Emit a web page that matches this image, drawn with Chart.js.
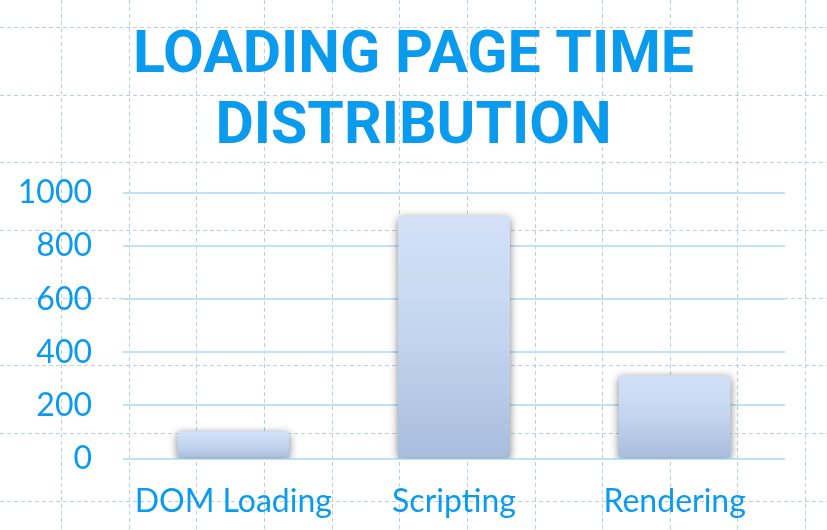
<!DOCTYPE html>
<html>
<head>
<meta charset="utf-8">
<script src="https://cdn.jsdelivr.net/npm/chart.js@4"></script>
<style>html,body{margin:0;padding:0;background:#fff}#wrap{width:827px;height:530px}</style>
</head>
<body>
<div id="wrap"><canvas id="chart" width="827" height="530"></canvas></div>
<script>
const categories = ['DOM Loading', 'Scripting', 'Rendering'];
const loadTimes = [102, 912, 313];
const yTicks = [0, 200, 400, 600, 800, 1000];
const titleLines = ['LOADING PAGE TIME', 'DISTRIBUTION'];

const BLUE = '#0a9bef';

const paperGrid = {
  id: 'paperGrid',
  beforeDraw(chart) {
    const ctx = chart.ctx;
    ctx.save();
    ctx.fillStyle = '#ffffff';
    ctx.fillRect(0, 0, chart.width, chart.height);
    ctx.strokeStyle = '#bccfdb';
    ctx.lineWidth = 1;
    ctx.setLineDash([4, 3]);
    const step = 67.65;
    for (let x = 61; x < chart.width; x += step) {
      ctx.beginPath(); ctx.moveTo(Math.round(x) + 0.5, 0); ctx.lineTo(Math.round(x) + 0.5, chart.height); ctx.stroke();
    }
    for (let y = 27; y < chart.height; y += step) {
      ctx.beginPath(); ctx.moveTo(0, Math.round(y) + 0.5); ctx.lineTo(chart.width, Math.round(y) + 0.5); ctx.stroke();
    }
    ctx.restore();
  }
};

const barShadow = {
  id: 'barShadow',
  beforeDatasetDraw(chart) {
    const ctx = chart.ctx;
    ctx.save();
    ctx.shadowColor = 'rgba(0,0,0,0.5)';
    ctx.shadowBlur = 9;
    ctx.shadowOffsetX = 0;
    ctx.shadowOffsetY = 2;
  },
  afterDatasetDraw(chart) {
    chart.ctx.restore();
  }
};

function barGradient(context) {
  const chart = context.chart;
  const area = chart.chartArea;
  if (!area) return '#c4d6ef';
  const y = chart.scales.y;
  const v = loadTimes[context.dataIndex];
  const top = y.getPixelForValue(v);
  const bottom = y.getPixelForValue(0);
  const g = chart.ctx.createLinearGradient(0, top, 0, bottom);
  g.addColorStop(0, '#d2e1f6');
  g.addColorStop(0.5, '#c3d5ef');
  g.addColorStop(1, '#a8bcdc');
  return g;
}

new Chart(document.getElementById('chart'), {
  type: 'bar',
  data: {
    labels: categories,
    datasets: [{
      data: loadTimes,
      backgroundColor: barGradient,
      borderWidth: 0,
      borderRadius: { topLeft: 3, topRight: 3, bottomLeft: 0, bottomRight: 0 },
      borderSkipped: 'bottom',
      barPercentage: 1,
      categoryPercentage: 0.507
    }]
  },
  options: {
    responsive: false,
    animation: false,
    devicePixelRatio: 1,
    layout: { padding: 0 },
    plugins: {
      legend: { display: false },
      tooltip: { enabled: false },
      title: {
        display: true,
        text: titleLines,
        color: BLUE,
        font: { family: 'Roboto', size: 59, weight: 'bold', lineHeight: 1.2034 },
        padding: { top: 22, bottom: 29 }
      }
    },
    scales: {
      x: {
        grid: { display: false },
        border: { display: false },
        ticks: {
          color: BLUE,
          font: { family: 'Lato', size: 32 },
          padding: 16,
          maxRotation: 0
        },
        afterFit(scale) { scale.height = 71.5; }
      },
      y: {
        min: 0,
        max: 1000,
        afterBuildTicks(scale) { scale.ticks = yTicks.map(v => ({ value: v })); },
        grid: { color: '#bde3f8', lineWidth: 2, drawTicks: false },
        border: { display: false },
        ticks: {
          color: BLUE,
          font: { family: 'Lato', size: 32 },
          padding: 31,
          callback: (v) => String(v)
        },
        afterFit(scale) { scale.width = 123; }
      },
      yRight: {
        position: 'right',
        display: true,
        grid: { display: false, drawTicks: false },
        border: { display: false },
        ticks: { display: false },
        afterFit(scale) { scale.width = 42; }
      }
    }
  },
  plugins: [paperGrid, barShadow]
});
</script>
</body>
</html>
